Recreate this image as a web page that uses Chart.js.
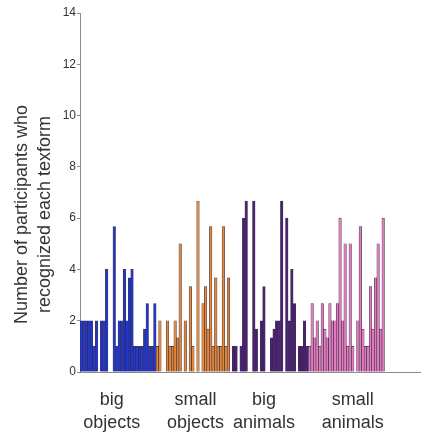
<!DOCTYPE html>
<html>
<head>
<meta charset="utf-8">
<script src="https://cdn.jsdelivr.net/npm/chart.js@4.4.1/dist/chart.umd.min.js"></script>
<style>
  html, body { margin: 0; padding: 0; background: #fff; }
</style>
</head>
<body>
<canvas id="texChart" width="424" height="432"></canvas>
<script>
// --- data (values are means of 3, so thirds) ---
const groupNames = [['big', 'objects'], ['small', 'objects'], ['big', 'animals'], ['small', 'animals']];
const groupColors = ['#2036cf', '#e0883c', '#4a1f78', '#df7dc0'];

const bigObjects   = [2, 2, 2, 2, 2, 1, 2, 0, 2, 2, 4, 0, 0, 5.67, 1, 2, 2, 4, 2, 3.67, 4, 1, 1, 1, 1, 1.67, 2.67, 1, 1, 2.67];
const smallObjects = [1, 2, 0, 0, 2, 1, 1, 2, 1.33, 5, 0, 2, 0, 3.33, 1, 0, 6.67, 0, 2.67, 3.33, 1.67, 5.67, 1, 3.67, 1, 1, 5.67, 1, 3.67, 0];
const bigAnimals   = [1, 1, 0, 1, 6, 6.67, 0, 0, 6.67, 1.67, 0, 2, 3.33, 0, 0, 1.33, 1.67, 2, 2, 6.67, 0, 6, 2, 4, 2.67, 0, 1, 1, 2, 1];
const smallAnimals = [1, 2.67, 1.33, 2, 1, 2.67, 1.67, 1.33, 2.67, 2, 2, 2.67, 6, 2, 5, 1, 5, 1, 0, 2, 5.67, 1.67, 1, 1, 3.33, 1.67, 3.67, 5, 1.67, 6];

const yTitle = ['Number of participants who', 'recognized each texform'];
const yMin = 0, yMax = 14, yStep = 2;
const slotCount = 134;            // x axis runs on past the last bar
const labelSlots = [12, 45, 72, 107];

// build one flat series + colour list
const groups = [bigObjects, smallObjects, bigAnimals, smallAnimals];
const values = [];
const colors = [];
groups.forEach((g, gi) => {
    g.forEach(v => { values.push(v); colors.push(groupColors[gi]); });
});
const labels = Array.from({ length: slotCount }, () => '');
labelSlots.forEach((s, gi) => { labels[s] = groupNames[gi]; });

// y title drawn by hand so it can sit a bit low like the original
const yTitlePlugin = {
    id: 'yTitle',
    afterDraw(chart) {
        const ctx = chart.ctx;
        const area = chart.chartArea;
        ctx.save();
        ctx.translate(22, area.top + (area.bottom - area.top) / 2 + 22);
        ctx.rotate(-Math.PI / 2);
        ctx.font = '18px "Liberation Sans", Arial, sans-serif';
        ctx.fillStyle = '#333';
        ctx.textAlign = 'center';
        ctx.textBaseline = 'middle';
        ctx.fillText(yTitle[0], 0, 0);
        ctx.fillText(yTitle[1], 0, 23);
        ctx.restore();
    }
};

const ctx = document.getElementById('texChart').getContext('2d');
new Chart(ctx, {
    type: 'bar',
    data: {
        labels: labels,
        datasets: [{
            data: values,
            backgroundColor: colors,
            borderColor: 'rgba(35, 20, 35, 0.85)',
            borderWidth: 0.6,
            barPercentage: 1,
            categoryPercentage: 1
        }]
    },
    options: {
        responsive: false,
        animation: false,
        layout: { padding: { top: 13, right: 4, left: 0, bottom: 0 } },
        plugins: { legend: { display: false }, tooltip: { enabled: false } },
        scales: {
            x: {
                offset: true,
                grid: { drawOnChartArea: false, drawTicks: false },
                border: { color: '#8a8a8a', width: 1 },
                ticks: {
                    autoSkip: false,
                    maxRotation: 0,
                    minRotation: 0,
                    padding: 16,
                    color: '#333',
                    font: { family: '"Liberation Sans", Arial, sans-serif', size: 18, lineHeight: 1.3 }
                },
                afterFit: (s) => {
                    s.height = 60;
                    // labels sit well inside the axis; don't let them shrink the plot
                    s.paddingLeft = 0;
                    s.paddingRight = 0;
                }
            },
            y: {
                min: yMin,
                max: yMax,
                grid: { drawOnChartArea: false, tickLength: 3, color: '#8a8a8a' },
                border: { color: '#8a8a8a', width: 1 },
                ticks: {
                    stepSize: yStep,
                    padding: 1,
                    color: '#333',
                    font: { family: '"Liberation Sans", Arial, sans-serif', size: 12 }
                },
                afterFit: (s) => { s.width = 80; }
            }
        }
    },
    plugins: [yTitlePlugin]
});
</script>
</body>
</html>
